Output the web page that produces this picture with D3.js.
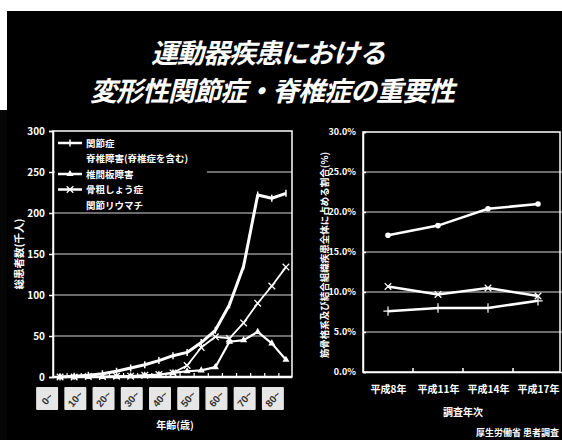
<!DOCTYPE html>
<html>
<head>
<meta charset="utf-8">
<title>運動器疾患における変形性関節症・脊椎症の重要性</title>
<script src="https://cdn.jsdelivr.net/npm/d3@7"></script>
<style>
    body { margin: 0; background: #fff; }
    svg { display: block; }
    text { fill: #fff; font-family: "Noto Sans CJK JP", sans-serif; font-weight: bold; }
    .num { font-family: "Liberation Sans Narrow", "Liberation Sans", sans-serif; font-size: 10px; }
    .axis path, .axis line { stroke: #fff; stroke-width: 1.5; }
    .grid { stroke: #d8d8d8; stroke-width: 1; }
</style>
</head>
<body>
<script>
// 年齢階級 (5歳刻み)
var ages = ["0-4","5-9","10-14","15-19","20-24","25-29","30-34","35-39","40-44",
            "45-49","50-54","55-59","60-64","65-69","70-74","75-79","80-"];
var decades = ["0~","10~","20~","30~","40~","50~","60~","70~","80~"];
var leftTicks = [0, 50, 100, 150, 200, 250, 300];

// 総患者数(千人)
var kansetsu = [0, 1, 2, 4, 7, 11, 15, 20, 26, 30, 42, 57, 88, 135, 222, 218, 224];
var tsuikanban = [0, 0, 0, 0, 0.5, 1, 2, 3, 5, 7, 8, 12, 43, 45, 55, 41, 21];
var kotsusoshou = [0, 0, 0.5, 0.5, 1, 1, 2, 3, 5, 14, 36, 49, 47, 66, 90, 111, 134];

var legendItems = [
    { label: "関節症", marker: "tick" },
    { label: "脊椎障害(脊椎症を含む)", marker: null },
    { label: "椎間板障害", marker: "tri" },
    { label: "骨粗しょう症", marker: "x" },
    { label: "関節リウマチ", marker: null }
];

// 右: 調査年次別 割合(%)
var years = ["平成8年", "平成11年", "平成14年", "平成17年"];
var rightTicks = [0, 5, 10, 15, 20, 25, 30];
var rateA = [17.1, 18.3, 20.4, 21.0];
var rateB = [10.7, 9.7, 10.5, 9.5];
var rateC = [7.6, 8.0, 8.0, 8.9];

var w = 562, h = 440;

var svg = d3.select("body").append("svg")
    .attr("width", w)
    .attr("height", h);

// slide background
svg.append("rect").attr("x", 7).attr("y", 11).attr("width", w).attr("height", h).attr("fill", "#000");
svg.append("rect").attr("x", 0).attr("y", 110).attr("width", 7).attr("height", h).attr("fill", "#050505");

// title
var title = svg.append("g")
    .attr("font-size", 27)
    .attr("font-style", "italic")
    .attr("letter-spacing", "-1")
    .attr("text-anchor", "middle");
title.append("text").attr("x", 268).attr("y", 63).text("運動器疾患における");
title.append("text").attr("x", 272).attr("y", 101).text("変形性関節症・脊椎症の重要性");

function marker(g, type, x, y) {
    if (type === "tick") {
        g.append("line").attr("x1", x).attr("x2", x).attr("y1", y - 3.5).attr("y2", y + 3.5)
            .attr("stroke", "#fff").attr("stroke-width", 1.5);
    } else if (type === "tri") {
        g.append("path").attr("d", d3.symbol(d3.symbolTriangle, 22)())
            .attr("transform", "translate(" + x + "," + y + ")").attr("fill", "#fff");
    } else if (type === "x") {
        g.append("path").attr("d", d3.symbol(d3.symbolTimes, 30)())
            .attr("transform", "translate(" + x + "," + y + ")")
            .attr("stroke", "#fff").attr("stroke-width", 1.3).attr("fill", "none");
    } else if (type === "dot") {
        g.append("circle").attr("cx", x).attr("cy", y).attr("r", 2.8).attr("fill", "#fff");
    } else if (type === "plus") {
        g.append("path").attr("d", d3.symbol(d3.symbolPlus, 30)())
            .attr("transform", "translate(" + x + "," + y + ")")
            .attr("stroke", "#fff").attr("stroke-width", 1.2).attr("fill", "none");
    }
}

// ---------- left chart ----------
var xL = d3.scalePoint().domain(ages).range([53, 293]).padding(0.5);
var xDec = d3.scaleBand().domain(decades).range([33, 287]);
var yL = d3.scaleLinear().domain([0, 300]).range([377, 131]);

var left = svg.append("g");

left.selectAll(".gl")
    .data(leftTicks.slice(1, -1))
    .enter().append("line")
    .attr("class", "grid")
    .attr("x1", 53).attr("x2", 292)
    .attr("y1", function(d) { return yL(d); })
    .attr("y2", function(d) { return yL(d); });

left.append("rect")
    .attr("x", 53).attr("y", yL(300))
    .attr("width", 239).attr("height", yL(0) - yL(300))
    .attr("fill", "none").attr("stroke", "#fff").attr("stroke-width", 1.5);

var yAxisL = d3.axisLeft(yL).tickValues(leftTicks).tickSize(4).tickPadding(4);
left.append("g")
    .attr("class", "axis num")
    .attr("transform", "translate(53,0)")
    .call(yAxisL)
    .call(function(g) { g.select(".domain").attr("stroke-width", 2); });

// inner ticks on the baseline
left.selectAll(".bt")
    .data(ages.slice(1))
    .enter().append("line")
    .attr("x1", function(d) { return xL(d) - xL.step() / 2; })
    .attr("x2", function(d) { return xL(d) - xL.step() / 2; })
    .attr("y1", yL(0)).attr("y2", yL(0) - 4)
    .attr("stroke", "#fff").attr("stroke-width", 1.2);
left.append("line").attr("x1", 53).attr("x2", 292).attr("y1", yL(0)).attr("y2", yL(0))
    .attr("stroke", "#fff").attr("stroke-width", 2.5);

var lineL = d3.line()
    .x(function(d, i) { return xL(ages[i]); })
    .y(function(d) { return yL(d); });

var seriesL = [
    { values: tsuikanban, marker: "tri", width: 2.2 },
    { values: kotsusoshou, marker: "x", width: 1.8 },
    { values: kansetsu, marker: "tick", width: 3 }
];
seriesL.forEach(function(s) {
    left.append("path")
        .datum(s.values)
        .attr("d", lineL)
        .attr("fill", "none")
        .attr("stroke", "#fff")
        .attr("stroke-width", s.width)
        .attr("stroke-linejoin", "round");
    s.values.forEach(function(v, i) {
        marker(left, s.marker, xL(ages[i]), yL(v));
    });
});

// legend
var lg = left.append("g");
lg.append("rect").attr("x", 55).attr("y", 134).attr("width", 152).attr("height", 76).attr("fill", "#000");
legendItems.forEach(function(d, i) {
    var y = 143 + i * 15.5;
    if (d.marker) {
        lg.append("line").attr("x1", 58).attr("x2", 82).attr("y1", y).attr("y2", y)
            .attr("stroke", "#fff").attr("stroke-width", 2.5);
        marker(lg, d.marker, 70, y);
    }
    lg.append("text").attr("x", 86).attr("y", y + 3.5)
        .attr("font-size", 9.5).text(d.label);
});

// decade category boxes
var dec = left.selectAll(".dec")
    .data(decades)
    .enter().append("g")
    .attr("transform", function(d) {
        return "translate(" + (xDec(d) + xDec.bandwidth() / 2) + ",399)";
    });
dec.append("rect")
    .attr("x", -11).attr("y", -12).attr("width", 22).attr("height", 23)
    .attr("rx", 1).attr("fill", "#e6e6e6");
dec.append("text")
    .attr("class", "num")
    .attr("transform", "rotate(-50)")
    .attr("text-anchor", "middle")
    .attr("dy", "0.35em")
    .attr("font-size", 8.5)
    .style("fill", "#333")
    .text(function(d) { return d; });

left.append("text").attr("x", 175).attr("y", 429).attr("text-anchor", "middle")
    .attr("font-size", 10).text("年齢(歳)");
left.append("text").attr("transform", "translate(23,254) rotate(-90)")
    .attr("text-anchor", "middle").attr("font-size", 10.5).text("総患者数(千人)");

// ---------- right chart ----------
var xR = d3.scalePoint().domain(years).range([363, 563]).padding(0.5);
var yR = d3.scaleLinear().domain([0, 30]).range([372, 132]);

var right = svg.append("g");

right.selectAll(".gr")
    .data(rightTicks.slice(1, -1))
    .enter().append("line")
    .attr("class", "grid")
    .attr("x1", 363).attr("x2", 562)
    .attr("y1", function(d) { return yR(d); })
    .attr("y2", function(d) { return yR(d); });

right.append("rect")
    .attr("x", 363).attr("y", yR(30))
    .attr("width", 197).attr("height", yR(0) - yR(30))
    .attr("fill", "none").attr("stroke", "#fff").attr("stroke-width", 1.5);

var yAxisR = d3.axisLeft(yR).tickValues(rightTicks).tickSize(-3).tickPadding(7)
    .tickFormat(function(d) { return d.toFixed(1) + "%"; });
right.append("g")
    .attr("class", "axis num")
    .attr("transform", "translate(363,0)")
    .call(yAxisR)
    .call(function(g) { g.selectAll("text").attr("font-size", 9); });

var xAxisR = d3.axisBottom(xR).tickSize(0).tickPadding(14);
right.append("g")
    .attr("class", "axis")
    .attr("transform", "translate(0," + yR(0) + ")")
    .call(xAxisR)
    .call(function(g) {
        g.select(".domain").attr("stroke-width", 2.5);
        g.selectAll("text").attr("font-size", 10);
    });

right.selectAll(".rt")
    .data(years.slice(1))
    .enter().append("line")
    .attr("x1", function(d) { return xR(d) - xR.step() / 2; })
    .attr("x2", function(d) { return xR(d) - xR.step() / 2; })
    .attr("y1", yR(0)).attr("y2", yR(0) - 4)
    .attr("stroke", "#fff").attr("stroke-width", 1.5);

var lineR = d3.line()
    .x(function(d, i) { return xR(years[i]); })
    .y(function(d) { return yR(d); });

[{ values: rateA, marker: "dot" },
 { values: rateB, marker: "x" },
 { values: rateC, marker: "plus" }].forEach(function(s) {
    right.append("path")
        .datum(s.values)
        .attr("d", lineR)
        .attr("fill", "none")
        .attr("stroke", "#fff")
        .attr("stroke-width", 2.5);
    s.values.forEach(function(v, i) {
        marker(right, s.marker, xR(years[i]), yR(v));
    });
});

right.append("text").attr("x", 463).attr("y", 416).attr("text-anchor", "middle")
    .attr("font-size", 10).text("調査年次");
right.append("text").attr("transform", "translate(328,255) rotate(-90)")
    .attr("text-anchor", "middle").attr("font-size", 9.5)
    .text("筋骨格系及び結合組織疾患全体に占める割合(%)");
right.append("text").attr("x", 476).attr("y", 436)
    .attr("font-size", 9).text("厚生労働省 患者調査");
</script>
</body>
</html>
